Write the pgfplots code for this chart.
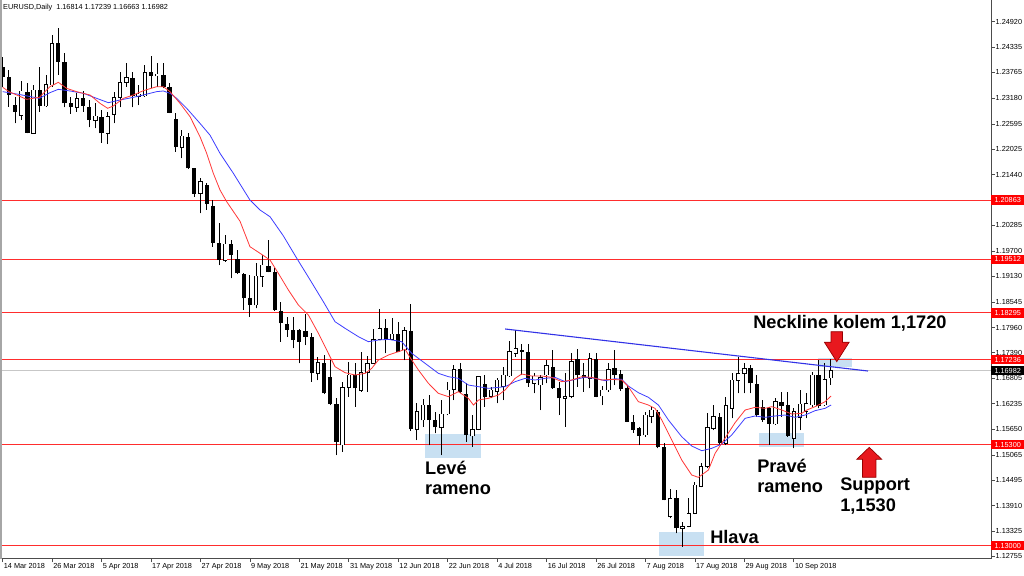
\documentclass[border=0pt]{standalone}
\usepackage{fontspec}
\setmainfont{Liberation Sans}
\usepackage{pgfplots}
\usepackage{pgfplotstable}
\pgfplotsset{compat=1.18}
\definecolor{boxblue}{RGB}{200,224,242}
\definecolor{arrowred}{RGB}{232,24,30}
\definecolor{arrowdark}{RGB}{150,0,0}
\definecolor{hred}{RGB}{255,45,45}
\definecolor{mared}{RGB}{255,55,55}
\definecolor{mablue}{RGB}{60,60,255}
\definecolor{nlblue}{RGB}{50,50,230}
\newcommand\ticksize{\fontsize{7.3bp}{8bp}\selectfont}
\newcommand\annsize{\fontsize{18.2bp}{20bp}\selectfont\bfseries}

% bearish candles (close < open)
\pgfplotstableread{
t o h l c
0 1.23897 1.24125 1.23442 1.23655
1 1.23655 1.23822 1.22987 1.23253
2 1.23025 1.23215 1.22608 1.22874
4 1.23329 1.23518 1.22381 1.22396
6 1.23367 1.23882 1.22874 1.23003
9 1.24428 1.24769 1.23708 1.24011
10 1.24011 1.24201 1.22972 1.23063
11 1.23063 1.23200 1.22821 1.22972
13 1.23192 1.23351 1.22874 1.23003
14 1.22987 1.23139 1.22517 1.22684
16 1.22760 1.22912 1.22168 1.22381
21 1.23632 1.23784 1.22972 1.23230
24 1.23768 1.24140 1.23404 1.23685
26 1.23708 1.23988 1.23404 1.23442
27 1.23442 1.23533 1.22840 1.22851
28 1.22699 1.22851 1.21964 1.22062
30 1.22290 1.22381 1.21570 1.21585
31 1.21585 1.21600 1.20940 1.21001
33 1.21205 1.21243 1.20637 1.20773
34 1.20728 1.20864 1.19803 1.19894
35 1.19894 1.20333 1.19385 1.19499
37 1.19863 1.19954 1.19082 1.19613
38 1.19514 1.19727 1.19180 1.19196
39 1.19181 1.19196 1.18362 1.18627
40 1.18627 1.19158 1.18210 1.18475
43 1.19363 1.19954 1.19220 1.19234
44 1.19234 1.19309 1.18350 1.18362
45 1.18346 1.18551 1.17641 1.18058
46 1.18043 1.18195 1.17755 1.17907
47 1.17907 1.18195 1.17490 1.17679
48 1.17907 1.17922 1.17148 1.17641
49 1.17891 1.18271 1.17565 1.17755
50 1.17740 1.17831 1.16731 1.16921
52 1.17163 1.17338 1.16450 1.16466
53 1.16830 1.17224 1.16200 1.16223
54 1.16223 1.16352 1.15063 1.15366
57 1.16883 1.17148 1.16162 1.16580
62 1.17945 1.18149 1.17376 1.17694
64 1.17808 1.18096 1.17400 1.17414
66 1.17891 1.18498 1.15617 1.15647
69 1.16200 1.16428 1.15290 1.15859
70 1.15859 1.16049 1.15556 1.15692
74 1.17012 1.17163 1.16466 1.16504
75 1.16450 1.16693 1.15366 1.15518
78 1.16678 1.16883 1.16162 1.16375
84 1.17452 1.17588 1.16883 1.17414
85 1.17414 1.17580 1.16617 1.16693
89 1.17072 1.17452 1.16570 1.16580
90 1.16580 1.16731 1.15973 1.16352
93 1.17239 1.17467 1.16617 1.16883
94 1.16883 1.17148 1.16504 1.16807
96 1.17239 1.17376 1.16375 1.16390
99 1.17034 1.17452 1.16655 1.16883
100 1.16906 1.16997 1.16527 1.16557
101 1.16580 1.16655 1.15810 1.15821
102 1.15821 1.15973 1.15571 1.15632
103 1.15670 1.15707 1.15290 1.15495
106 1.16049 1.16087 1.15215 1.15237
107 1.15237 1.15343 1.14030 1.14039
109 1.14077 1.14267 1.13281 1.13395
116 1.15935 1.16011 1.15290 1.15328
121 1.17035 1.17111 1.16466 1.16694
122 1.16679 1.16883 1.15935 1.15973
123 1.16148 1.16315 1.15822 1.15860
124 1.16125 1.16148 1.15291 1.15769
126 1.16277 1.16504 1.15935 1.16178
127 1.16201 1.16504 1.15480 1.15496
132 1.16883 1.17225 1.16125 1.16178
}\candlesdn

% bullish candles (close > open)
\pgfplotstableread{
t o h l c
3 1.22783 1.23579 1.22684 1.23344
5 1.22381 1.23480 1.22370 1.23367
7 1.23003 1.23708 1.22987 1.23495
8 1.23480 1.24618 1.23442 1.24428
12 1.22972 1.23291 1.22874 1.23177
15 1.22669 1.23063 1.22495 1.22775
17 1.22381 1.22874 1.22138 1.22760
18 1.22813 1.23329 1.22608 1.23192
19 1.23192 1.23784 1.22972 1.23541
20 1.23541 1.23973 1.23442 1.23655
22 1.23215 1.23480 1.23025 1.23276
23 1.23230 1.23935 1.23215 1.23768
25 1.23685 1.23973 1.23442 1.23731
29 1.22062 1.22457 1.21812 1.22320
32 1.21016 1.21357 1.20561 1.21281
36 1.19484 1.20068 1.19461 1.19863
41 1.18475 1.19423 1.18399 1.19135
42 1.19120 1.19613 1.18892 1.19385
51 1.16921 1.17300 1.16769 1.17163
55 1.15290 1.16731 1.15139 1.16602
56 1.16602 1.17186 1.16390 1.16883
58 1.16527 1.17414 1.16504 1.16936
59 1.16936 1.17315 1.16504 1.17148
60 1.17148 1.17922 1.17140 1.17694
61 1.17694 1.18377 1.17679 1.17945
63 1.17694 1.18172 1.17679 1.17816
65 1.17452 1.17967 1.17224 1.17891
67 1.15647 1.16238 1.15404 1.16049
68 1.15859 1.16329 1.15707 1.16200
71 1.15692 1.16314 1.15063 1.15996
72 1.15996 1.16731 1.15973 1.16542
73 1.16557 1.17110 1.16314 1.17012
76 1.15495 1.15973 1.15252 1.15647
77 1.15647 1.16860 1.15632 1.16845
79 1.16390 1.16617 1.16352 1.16542
80 1.16504 1.16807 1.16238 1.16769
81 1.16617 1.17072 1.16314 1.16883
82 1.16860 1.17664 1.16845 1.17414
83 1.17376 1.17907 1.17300 1.17482
86 1.16693 1.16921 1.16466 1.16860
87 1.16655 1.16883 1.16087 1.16830
88 1.16883 1.17224 1.16693 1.17095
91 1.16352 1.16921 1.15707 1.16390
92 1.16390 1.17376 1.16352 1.17186
95 1.16807 1.17376 1.16580 1.17262
97 1.16405 1.16633 1.16200 1.16542
98 1.16542 1.17148 1.16504 1.17012
104 1.15518 1.16049 1.15480 1.15973
105 1.15935 1.16147 1.15783 1.16087
108 1.13660 1.14282 1.13622 1.14077
110 1.13395 1.13546 1.12978 1.13433
111 1.13433 1.14077 1.13420 1.13736
112 1.13736 1.14456 1.13720 1.14380
113 1.14343 1.14873 1.14330 1.14797
114 1.14797 1.16011 1.14760 1.15692
115 1.15670 1.16200 1.15632 1.15935
117 1.15328 1.16390 1.15290 1.16193
118 1.16124 1.16921 1.15897 1.16769
119 1.16754 1.17300 1.16466 1.16921
120 1.16921 1.17149 1.16466 1.17035
125 1.15769 1.16352 1.15746 1.16277
128 1.15443 1.16125 1.15215 1.16049
129 1.15920 1.16542 1.15632 1.16224
130 1.16049 1.16466 1.15898 1.16239
131 1.16201 1.16959 1.16163 1.16883
133 1.16201 1.17149 1.16178 1.16785
134 1.16814 1.17239 1.16663 1.16982
}\candlesup

\pgfplotstableread{
t v
0 1.23427
1.02 1.23329
3.88 1.23154
5.93 1.23200
7.65 1.23442
9.0 1.23541
10.35 1.23404
11.97 1.23329
14.13 1.23253
15.74 1.23063
16.98 1.22950
17.9 1.23003
19.52 1.23177
21.14 1.23253
22.76 1.23351
24.91 1.23442
25.99 1.23442
27.07 1.23329
28.69 1.23063
30.31 1.22760
31.92 1.22305
33.0 1.21926
34.08 1.21471
35.16 1.21092
36.24 1.20826
38.4 1.20380
40.0 1.19803
41.63 1.19652
43.25 1.19499
44.6 1.19196
46.22 1.18817
47.84 1.18475
49.46 1.18248
51.08 1.17831
52.69 1.17376
53.77 1.17072
55.39 1.16936
57.01 1.16883
58.63 1.16921
59.71 1.17035
60.78 1.17224
62.4 1.17338
64.02 1.17414
65.1 1.17467
66.18 1.17224
67.26 1.16997
68.88 1.16693
70.49 1.16466
72.11 1.16390
73.73 1.16504
75.35 1.16352
76.16 1.16200
76.97 1.16314
78.58 1.16352
80.2 1.16428
81.28 1.16542
82.9 1.16807
83.97 1.16906
85.6 1.16860
87.21 1.16860
88.83 1.16830
90.45 1.16731
92.07 1.16769
93.68 1.16845
95.3 1.16830
96.92 1.16769
98.54 1.16784
100.16 1.16769
101.23 1.16617
102.85 1.16276
104.47 1.16200
105.55 1.16124
106.63 1.15859
108.25 1.15404
109.86 1.14949
111.48 1.14608
112.56 1.14555
114.18 1.14722
115.26 1.15101
116.88 1.15450
118.5 1.15800
120.12 1.16087
121.74 1.16148
123.35 1.16125
124.43 1.16163
126.05 1.16087
127.67 1.15996
129.29 1.16011
130.1 1.16087
131.44 1.16163
133.06 1.16277
134.03 1.16406
}\redma

\pgfplotstableread{
t v
0 1.23329
2.26 1.23276
5.93 1.23177
7.65 1.23306
9.0 1.23382
10.89 1.23344
13.05 1.23291
15.2 1.23177
17.09 1.23078
18.98 1.23139
21.14 1.23200
22.76 1.23253
24.91 1.23329
25.99 1.23344
27.07 1.23291
28.15 1.23177
29.77 1.22950
31.92 1.22608
33.54 1.22340
35.16 1.21926
37.32 1.21471
40.0 1.20864
41.63 1.20637
43.25 1.20484
45.4 1.20050
47.57 1.19540
49.72 1.19050
51.88 1.18550
53.77 1.18096
55.39 1.17945
57.55 1.17755
59.17 1.17641
60.78 1.17679
62.4 1.17694
64.56 1.17641
66.18 1.17376
68.34 1.17148
70.49 1.16921
72.11 1.16845
73.73 1.16807
75.35 1.16655
76.97 1.16618
78.58 1.16580
80.2 1.16602
81.28 1.16617
82.9 1.16731
84.51 1.16807
86.13 1.16769
87.75 1.16807
89.37 1.16830
90.99 1.16731
92.6 1.16784
94.22 1.16830
95.84 1.16807
97.46 1.16754
99.08 1.16799
100.16 1.16784
101.23 1.16633
102.85 1.16481
104.47 1.16375
106.09 1.16200
107.71 1.15859
109.86 1.15480
111.48 1.15268
113.1 1.15161
114.72 1.15215
116.34 1.15313
117.96 1.15520
120.12 1.15898
121.74 1.15951
123.35 1.15920
124.97 1.15951
126.59 1.15973
128.21 1.15920
129.83 1.15973
131.44 1.16072
133.06 1.16125
134.03 1.16201
}\bluema

\pgfplotsset{
  errbar/.style={only marks, mark size=0pt, mark options={draw=none, fill=none}, forget plot,
    error bars/.cd, y dir=plus, y explicit, error mark=none,
    error bar style={#1}},
}

\begin{document}
\begin{tikzpicture}
\begin{axis}[
  scale only axis, width=990bp, height=558.5bp,
  xmin=-0.275, xmax=159.9, ymin=1.12709, ymax=1.25414,
  axis x line*=bottom, axis y line*=right,
  axis line style={draw=black!70, line width=1bp},
  tick align=outside, major tick length=3.5bp,
  tick style={black!70, line width=0.8bp},
  xtick={0,8,16,24,32,40,48,56,64,72,80,88,96,104,112,120,128},
  xticklabels={14 Mar 2018,26 Mar 2018,5 Apr 2018,17 Apr 2018,27 Apr 2018,9 May 2018,21 May 2018,31 May 2018,12 Jun 2018,22 Jun 2018,4 Jul 2018,16 Jul 2018,26 Jul 2018,7 Aug 2018,17 Aug 2018,29 Aug 2018,10 Sep 2018},
  xticklabel style={anchor=north west, inner sep=1bp, font=\ticksize},
  ytick={1.24920,1.24335,1.23765,1.23180,1.22595,1.22025,1.21440,1.20285,1.19700,1.19130,1.18545,1.17960,1.17390,1.16805,1.16235,1.15650,1.15065,1.14495,1.13910,1.13325,1.12755},
  yticklabels={1.24920,1.24335,1.23765,1.23180,1.22595,1.22025,1.21440,1.20285,1.19700,1.19130,1.18545,1.17960,1.17390,1.16805,1.16235,1.15650,1.15065,1.14495,1.13910,1.13325,1.12755},
  yticklabel style={anchor=west, inner sep=1bp, font=\ticksize},
  extra y ticks={1.20863,1.19512,1.18295,1.17236,1.15300,1.13000},
  extra y tick labels={1.20863,1.19512,1.18295,1.17236,1.15300,1.13000},
  extra y tick style={tick style={draw=none}, yticklabel style={fill=red, text=white, minimum width=33bp, minimum height=9.5bp, inner sep=0.5bp, anchor=west, xshift=-3.5bp}},
  clip=false,
]
% shaded zones
\addplot[fill=boxblue, draw=none] coordinates {(68.33,1.15541) (77.39,1.15541) (77.39,1.14995) (68.33,1.14995)};
\addplot[fill=boxblue, draw=none] coordinates {(106.2,1.13312) (113.48,1.13312) (113.48,1.12766) (106.2,1.12766)};
\addplot[fill=boxblue, draw=none] coordinates {(122.38,1.15557) (129.7,1.15557) (129.7,1.15252) (122.38,1.15252)};
\addplot[fill=boxblue, draw=none] coordinates {(131.88,1.17263) (137.48,1.17263) (137.48,1.17058) (131.88,1.17058)};
% horizontal levels
\addplot[hred, line width=1bp] coordinates {(-0.275,1.20863) (159.9,1.20863)};
\addplot[hred, line width=1bp] coordinates {(-0.275,1.19512) (159.9,1.19512)};
\addplot[hred, line width=1bp] coordinates {(-0.275,1.18295) (159.9,1.18295)};
\addplot[hred, line width=1bp] coordinates {(-0.275,1.17236) (159.9,1.17236)};
\addplot[hred, line width=1bp] coordinates {(-0.275,1.15300) (159.9,1.15300)};
\addplot[hred, line width=1bp] coordinates {(-0.275,1.13000) (159.9,1.13000)};
\addplot[black!22, line width=0.8bp] coordinates {(-0.275,1.16982) (159.9,1.16982)};
% wicks
\addplot[errbar={draw=black, line width=0.9bp}] table[x=t, y=l, y error expr={\thisrow{h}-\thisrow{l}}] {\candlesdn};
\addplot[errbar={draw=black, line width=0.9bp}] table[x=t, y=l, y error expr={\thisrow{h}-\thisrow{l}}] {\candlesup};
% bearish bodies
\addplot[errbar={draw=black, line width=4.2bp}] table[x=t, y=c, y error expr={\thisrow{o}-\thisrow{c}}] {\candlesdn};
% bullish bodies: outline then white fill
\addplot[errbar={draw=black, line width=4.4bp}] table[x=t, y expr={\thisrow{o}-0.0001}, y error expr={\thisrow{c}-\thisrow{o}+0.0002}] {\candlesup};
\addplot[errbar={draw=white, line width=2.6bp}] table[x=t, y expr={\thisrow{o}+0.0001}, y error expr={max(\thisrow{c}-\thisrow{o}-0.0002,0)}] {\candlesup};
% moving averages
\addplot[mablue, line width=0.8bp] table[x=t, y=v] {\bluema};
\addplot[mared, line width=0.8bp] table[x=t, y=v] {\redma};
% neckline
\addplot[nlblue, line width=1.1bp] coordinates {(81.28,1.17930) (140.0,1.16974)};
% left border
\draw[black!35, line width=1.5bp] (rel axis cs:0,0) -- (rel axis cs:0,1);
% title
\node[anchor=west, inner sep=0pt, font=\ticksize] at (axis cs:0.05,1.25243) {EURUSD,Daily\ \ 1.16814 1.17239 1.16663 1.16982};
% current price tag
\node[fill=black, text=white, anchor=west, minimum width=33bp, minimum height=9.5bp, inner sep=0.5bp, font=\ticksize] at (axis cs:159.9,1.16982) {1.16982};
% arrows
\filldraw[fill=arrowred, draw=arrowdark, line width=0.7bp] (axis cs:134.95,1.17186) -- ++(-12.4bp,19.5bp) -- ++(6.7bp,0bp) -- ++(0bp,10.5bp) -- ++(11.4bp,0bp) -- ++(0bp,-10.5bp) -- ++(6.7bp,0bp) -- cycle;
\filldraw[fill=arrowred, draw=arrowdark, line width=0.7bp] (axis cs:140.2,1.15238) -- ++(12.5bp,-12bp) -- ++(-5.8bp,0bp) -- ++(0bp,-18bp) -- ++(-13.4bp,0bp) -- ++(0bp,18bp) -- ++(-5.8bp,0bp) -- cycle;
% annotations
\node[anchor=west, inner sep=0pt, font=\annsize] at (axis cs:121.41,1.18060) {Neckline kolem 1,1720};
\node[anchor=west, inner sep=0pt, font=\annsize] at (axis cs:68.33,1.14768) {Levé};
\node[anchor=west, inner sep=0pt, font=\annsize] at (axis cs:68.33,1.14267) {rameno};
\node[anchor=west, inner sep=0pt, font=\annsize] at (axis cs:114.45,1.13198) {Hlava};
\node[anchor=west, inner sep=0pt, font=\annsize] at (axis cs:122.05,1.14813) {Pravé};
\node[anchor=west, inner sep=0pt, font=\annsize] at (axis cs:122.05,1.14313) {rameno};
\node[anchor=west, inner sep=0pt, font=\annsize] at (axis cs:135.48,1.14358) {Support};
\node[anchor=west, inner sep=0pt, font=\annsize] at (axis cs:135.48,1.13880) {1,1530};
\end{axis}
\pgfresetboundingbox
\path[use as bounding box] (current axis.south west) ++(-1bp,-17.5bp) rectangle ++(1024bp,576bp);
\end{tikzpicture}
\end{document}
